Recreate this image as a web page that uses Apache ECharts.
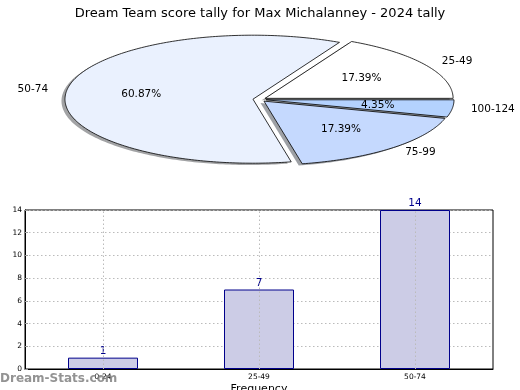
<!DOCTYPE html>
<html>
<head>
<meta charset="utf-8">
<script src="https://cdn.jsdelivr.net/npm/echarts@6/dist/echarts.min.js"></script>
<style>
  html, body { margin: 0; padding: 0; background: #fff; }
  #chart { width: 520px; height: 390px; }
</style>
</head>
<body>
<div id="chart"></div>
<script>
// ---- data ----
const titleText = 'Dream Team score tally for Max Michalanney - 2024 tally';
const pieLabels = ['25-49', '50-74', '75-99', '100-124'];
const pieValues = [4, 14, 4, 1];
const barCategories = ['0-24', '25-49', '50-74'];
const barValues = [1, 7, 14];
const yTicks = { min: 0, max: 14, interval: 2 };

// ---- styles ----
const pieColors = ['#ffffff', '#eaf1fe', '#c5d9fe', '#b4d2fe'];
const FONT = 'DejaVu Sans';

// pie geometry (elliptical, matplotlib-like)
const PIE = { cx: 259.5, cy: 99.5, R: 188, r: 64, explode: 0.035, shadowDx: -3.5, shadowDy: 1.8 };
const total = pieValues.reduce((a, b) => a + b, 0);

function sliceGeom(i) {
  let before = 0;
  for (let k = 0; k < i; k++) before += pieValues[k];
  const a0 = before / total * 2 * Math.PI;
  const a1 = (before + pieValues[i]) / total * 2 * Math.PI;
  const mid = (a0 + a1) / 2;
  const ox = PIE.cx + PIE.explode * PIE.R * Math.cos(mid);
  const oy = PIE.cy - PIE.explode * PIE.r * Math.sin(mid);
  return { a0, a1, mid, ox, oy };
}
function slicePoints(g, dx, dy) {
  const pts = [[g.ox + dx, g.oy + dy]];
  const n = Math.max(4, Math.ceil((g.a1 - g.a0) / (Math.PI / 180)));
  for (let s = 0; s <= n; s++) {
    const a = g.a0 + (g.a1 - g.a0) * s / n;
    pts.push([g.ox + dx + PIE.R * Math.cos(a), g.oy + dy - PIE.r * Math.sin(a)]);
  }
  return pts;
}
function darken(hex, f) {
  const v = parseInt(hex.slice(1), 16);
  const r = Math.round(((v >> 16) & 255) * f), gg = Math.round(((v >> 8) & 255) * f), b = Math.round((v & 255) * f);
  return 'rgba(' + r + ',' + gg + ',' + b + ',0.5)';
}

const chart = echarts.init(document.getElementById('chart'), null, { renderer: 'canvas' });

const option = {
  animation: false,
  backgroundColor: '#fff',
  title: {
    text: titleText,
    left: 'center',
    top: 2,
    textStyle: { fontFamily: FONT, fontSize: 13, fontWeight: 'normal', color: '#000' }
  },
  graphic: [{
    type: 'text',
    left: 0,
    top: 373,
    silent: true,
    z: 100,
    style: { text: 'Dream-Stats.com', fontFamily: FONT, fontSize: 12, fontWeight: 'bold', fill: 'rgba(128,128,128,0.85)' }
  }],
  grid: {
    left: 25, right: 27, top: 210, bottom: 21,
    containLabel: false,
    outerBoundsMode: 'none',
    show: true, borderColor: '#000', borderWidth: 1, backgroundColor: 'transparent'
  },
  xAxis: {
    type: 'category',
    data: barCategories,
    name: 'Frequency',
    nameLocation: 'middle',
    nameGap: 15,
    nameTextStyle: { fontFamily: FONT, fontSize: 11, color: '#000' },
    axisLine: { lineStyle: { color: '#000', width: 1 } },
    axisTick: { show: false },
    axisLabel: { fontFamily: FONT, fontSize: 7.5, color: '#000', margin: 4 },
    splitLine: { show: false }
  },
  yAxis: {
    type: 'value',
    min: yTicks.min, max: yTicks.max, interval: yTicks.interval,
    name: 'Stat Intervals',
    nameLocation: 'middle',
    nameGap: 14,
    nameTextStyle: { fontFamily: FONT, fontSize: 11, color: '#000' },
    axisLine: { show: true, lineStyle: { color: '#000', width: 1 } },
    axisTick: { show: true, inside: true, length: 3, lineStyle: { color: '#999' } },
    axisLabel: { fontFamily: FONT, fontSize: 7.5, color: '#000', margin: 3 },
    splitLine: { show: true, lineStyle: { color: '#bbb', type: [1.5, 2.5], width: 1 } }
  },
  series: [
    {
      type: 'bar',
      data: barValues,
      barWidth: 70,
      itemStyle: { color: '#cccce6', borderColor: '#00008b', borderWidth: 1 },
      label: { show: true, position: 'top', distance: 1, fontFamily: FONT, fontSize: 10.5, color: '#00008b' },
      markLine: {
        silent: true,
        symbol: 'none',
        label: { show: false },
        lineStyle: { color: '#bbb', type: [1.5, 2.5], width: 1 },
        data: barCategories.map(c => ({ xAxis: c }))
      },
      z: 3
    },
    {
      type: 'custom',
      coordinateSystem: 'none',
      data: pieValues,
      z: 1,
      silent: true,
      renderItem: function (params, api) {
        const i = params.dataIndex;
        const g = sliceGeom(i);
        return {
          type: 'polygon',
          shape: { points: slicePoints(g, PIE.shadowDx, PIE.shadowDy) },
          style: { fill: darken(pieColors[i], 0.3), stroke: null }
        };
      }
    },
    {
      type: 'custom',
      coordinateSystem: 'none',
      data: pieValues,
      z: 2,
      silent: true,
      renderItem: function (params, api) {
        const i = params.dataIndex;
        const v = api.value(0);
        const g = sliceGeom(i);
        const cm = Math.cos(g.mid), sm = Math.sin(g.mid);
        const lx = g.ox + 1.1 * PIE.R * cm;
        const ly = g.oy - 1.1 * PIE.r * sm;
        const px = g.ox + 0.6 * PIE.R * cm;
        const py = g.oy - 0.6 * PIE.r * sm;
        return {
          type: 'group',
          children: [
            {
              type: 'polygon',
              shape: { points: slicePoints(g, 0, 0) },
              style: { fill: pieColors[i], stroke: '#000', lineWidth: 0.8, lineJoin: 'miter' }
            },
            {
              type: 'text',
              style: {
                text: (v / total * 100).toFixed(2) + '%',
                x: px, y: py, align: 'center', verticalAlign: 'middle',
                fontFamily: FONT, fontSize: 10.5, fill: '#000'
              },
              z2: 10
            },
            {
              type: 'text',
              style: {
                text: pieLabels[i],
                x: lx, y: ly, align: cm >= 0 ? 'left' : 'right', verticalAlign: 'middle',
                fontFamily: FONT, fontSize: 10.5, fill: '#000'
              },
              z2: 10
            }
          ]
        };
      }
    }
  ]
};
chart.setOption(option);
</script>
</body>
</html>
